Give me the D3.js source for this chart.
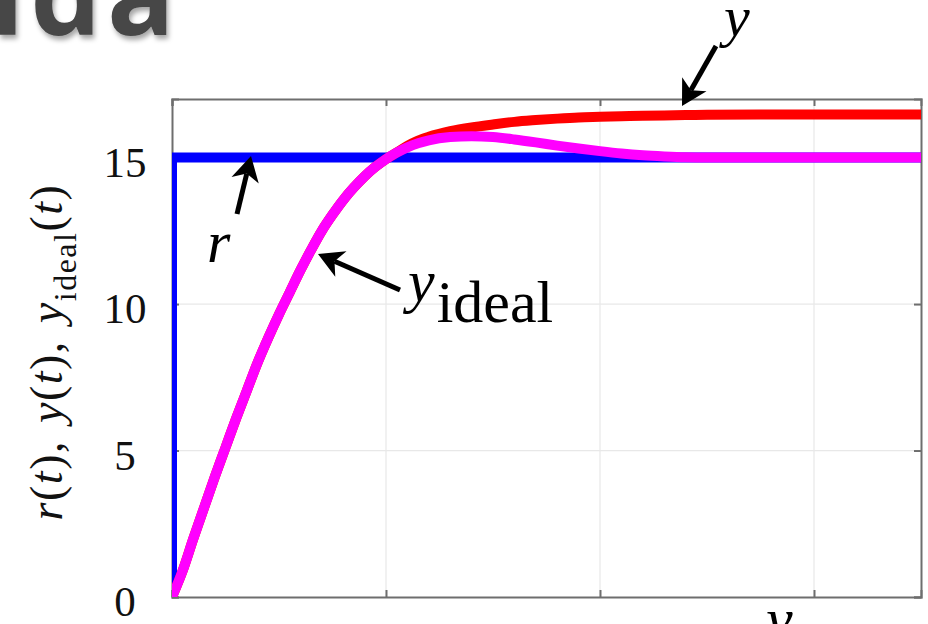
<!DOCTYPE html>
<html>
<head>
<meta charset="utf-8">
<script src="https://cdn.jsdelivr.net/npm/d3@7"></script>
<style>
  html, body { margin: 0; padding: 0; background: #fff; overflow: hidden; }
  svg { display: block; }
</style>
</head>
<body>
<svg id="chart" width="928" height="624"></svg>
<script>
// Step response: reference r(t), plant output y(t) and ideal output y_ideal(t)
const tValues = [0, 0.05, 0.1, 0.15, 0.2, 0.25, 0.3, 0.35, 0.4, 0.45, 0.5, 0.55, 0.6, 0.65, 0.7, 0.75,
  0.8, 0.85, 0.9, 0.95, 1.0, 1.05, 1.1, 1.15, 1.2, 1.3, 1.4, 1.5, 1.6, 1.7, 1.8, 1.9, 2.0, 2.1,
  2.2, 2.3, 2.4, 2.5, 2.75, 3.0, 3.25, 3.5];
const yIdealValues = [0, 0.9, 2.0, 3.05, 4.1, 5.1, 6.1, 7.05, 8.0, 8.85, 9.65, 10.4, 11.15, 11.85, 12.5, 13.05,
  13.55, 13.98, 14.36, 14.68, 14.95, 15.17, 15.35, 15.49, 15.59, 15.7, 15.73, 15.7, 15.62, 15.52, 15.41, 15.31, 15.22, 15.14,
  15.08, 15.04, 15.01, 15.0, 15.0, 15.0, 15.0, 15.0];
const yValues = [0, 0.9, 2.0, 3.05, 4.1, 5.1, 6.1, 7.05, 8.0, 8.85, 9.65, 10.4, 11.15, 11.85, 12.5, 13.05,
  13.55, 13.98, 14.36, 14.68, 14.95, 15.17, 15.4, 15.58, 15.71, 15.9, 16.03, 16.13, 16.22, 16.28, 16.33, 16.37, 16.39, 16.41,
  16.43, 16.44, 16.45, 16.46, 16.47, 16.47, 16.47, 16.47];
const rT = [0, 0, 3.5];
const rValues = [0, 15, 15];
const yTicks = [0, 5, 10, 15];
const xTicks = [0, 1, 2, 3];

const svg = d3.select("#chart");
const plotLeft = 172, plotRight = 921, plotTop = 99, plotBottom = 597;

const x = d3.scaleLinear().domain([0, 3.5]).range([plotLeft, plotRight]);
const y = d3.scaleLinear().domain([0, 17]).range([plotBottom, plotTop]);

const defs = svg.append("defs");
defs.append("clipPath").attr("id", "plotClip")
  .append("rect").attr("x", plotLeft).attr("y", plotTop)
  .attr("width", plotRight - plotLeft).attr("height", plotBottom - plotTop);
const sh = defs.append("filter").attr("id", "titleShadow")
  .attr("x", "-20%").attr("y", "-20%").attr("width", "140%").attr("height", "160%");
sh.append("feDropShadow").attr("dx", 2).attr("dy", 4).attr("stdDeviation", 2.5)
  .attr("flood-color", "#000").attr("flood-opacity", 0.35);

// Slide title fragment
svg.append("text")
  .attr("x", -10).attr("y", 35)
  .attr("font-family", "'Open Sans', sans-serif")
  .attr("font-weight", 700)
  .attr("font-size", 112)
  .attr("letter-spacing", 6)
  .attr("fill", "#474747")
  .attr("filter", "url(#titleShadow)")
  .text("ida");

// Grid lines
const grid = svg.append("g").attr("stroke", "#e8e8e8").attr("stroke-width", 1.2);
grid.selectAll("line.gx").data(xTicks.filter(d => d > 0)).join("line")
  .attr("x1", d => x(d)).attr("x2", d => x(d)).attr("y1", plotTop).attr("y2", plotBottom);
grid.selectAll("line.gy").data(yTicks.filter(d => d > 0)).join("line")
  .attr("x1", plotLeft).attr("x2", plotRight).attr("y1", d => y(d)).attr("y2", d => y(d));

// Axes (ticks pointing inward, box around plot area)
const axisColor = "#6e6e6e";
const xAxisB = d3.axisBottom(x).tickValues(xTicks).tickSize(-7).tickFormat("");
const xAxisT = d3.axisTop(x).tickValues(xTicks).tickSize(-7).tickFormat("");
const yAxisL = d3.axisLeft(y).tickValues(yTicks).tickSize(-7).tickFormat("");
const yAxisR = d3.axisRight(y).tickValues(yTicks).tickSize(-7).tickFormat("");
[[xAxisB, `translate(0,${plotBottom})`], [xAxisT, `translate(0,${plotTop})`],
 [yAxisL, `translate(${plotLeft},0)`], [yAxisR, `translate(${plotRight},0)`]].forEach(([ax, tr]) => {
  const g = svg.append("g").attr("transform", tr).call(ax);
  g.select(".domain").attr("stroke", axisColor).attr("stroke-width", 2);
  g.selectAll(".tick line").attr("stroke", axisColor).attr("stroke-width", 2);
});

// Y tick labels
svg.append("g").selectAll("text").data(yTicks).join("text")
  .attr("x", 125).attr("y", d => y(d) + 19)
  .attr("text-anchor", "middle")
  .attr("font-family", "'Liberation Serif', serif")
  .attr("font-size", 43)
  .attr("fill", "#111")
  .text(d => d);

// Y axis label
const yl = svg.append("text")
  .attr("transform", `translate(62,352) rotate(-90)`)
  .attr("text-anchor", "middle")
  .attr("font-family", "'Liberation Serif', serif")
  .attr("font-size", 46)
  .attr("letter-spacing", 1.5)
  .attr("fill", "#111");
yl.append("tspan").attr("font-style", "italic").text("r");
yl.append("tspan").text("(");
yl.append("tspan").attr("font-style", "italic").text("t");
yl.append("tspan").text("), ");
yl.append("tspan").attr("dx", 4).attr("font-style", "italic").text("y");
yl.append("tspan").text("(");
yl.append("tspan").attr("font-style", "italic").text("t");
yl.append("tspan").text("), ");
yl.append("tspan").attr("dx", 4).attr("font-style", "italic").text("y");
yl.append("tspan").attr("font-size", 32).attr("dy", 14).text("ideal");
yl.append("tspan").attr("dy", -14).text("(");
yl.append("tspan").attr("font-style", "italic").text("t");
yl.append("tspan").text(")");

// Series
const plot = svg.append("g").attr("clip-path", "url(#plotClip)");
const line = d3.line().x(d => x(d[0])).y(d => y(d[1]));
const smooth = d3.line().x(d => x(d[0])).y(d => y(d[1])).curve(d3.curveMonotoneX);

plot.append("path")
  .datum(rT.map((t, i) => [t, rValues[i]]))
  .attr("d", line).attr("fill", "none").attr("stroke", "#0000ff").attr("stroke-width", 10);
plot.append("path")
  .datum(tValues.map((t, i) => [t, yValues[i]]))
  .attr("d", smooth).attr("fill", "none").attr("stroke", "#ff0000").attr("stroke-width", 10);
plot.append("path")
  .datum(tValues.map((t, i) => [t, yIdealValues[i]]))
  .attr("d", smooth).attr("fill", "none").attr("stroke", "#ff00ff").attr("stroke-width", 10);

// Annotation arrows with notched heads
function arrow(x1, y1, x2, y2) {
  const ang = Math.atan2(y2 - y1, x2 - x1);
  const L = 25, W = 14, notch = 7;
  const ux = Math.cos(ang), uy = Math.sin(ang), px = -uy, py = ux;
  const bx = x2 - ux * L, by = y2 - uy * L;
  const nx = x2 - ux * (L - notch), ny = y2 - uy * (L - notch);
  const g = svg.append("g");
  g.append("line").attr("x1", x1).attr("y1", y1).attr("x2", nx).attr("y2", ny)
    .attr("stroke", "#000").attr("stroke-width", 5);
  g.append("path")
    .attr("d", `M${x2},${y2} L${bx + px * W},${by + py * W} L${nx},${ny} L${bx - px * W},${by - py * W} Z`)
    .attr("fill", "#000");
}
arrow(716, 46, 682, 106);
arrow(237, 214, 251, 156);
arrow(400, 290, 318, 254);

// Annotation labels
const ann = svg.append("g").attr("font-family", "'Liberation Serif', serif").attr("fill", "#000");
ann.append("text").attr("x", 724).attr("y", 36).attr("font-size", 58).attr("font-style", "italic").text("y");
ann.append("text").attr("x", 207).attr("y", 262).attr("font-size", 60).attr("font-style", "italic").text("r");
const yi = ann.append("text").attr("x", 408).attr("y", 301).attr("font-size", 60);
yi.append("tspan").attr("font-style", "italic").text("y");
yi.append("tspan").attr("dy", 21).attr("dx", 2).text("ideal");
ann.append("text").attr("x", 766).attr("y", 639).attr("font-size", 60).attr("font-style", "italic").text("y");
</script>
</body>
</html>
